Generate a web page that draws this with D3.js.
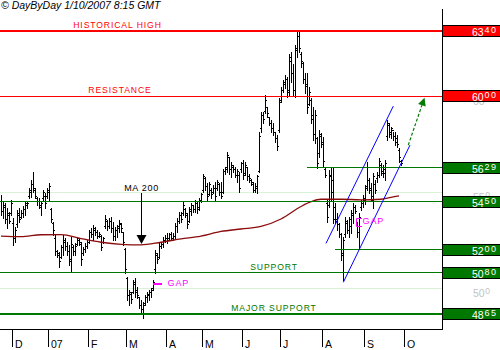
<!DOCTYPE html>
<html><head><meta charset="utf-8">
<script src="https://cdn.jsdelivr.net/npm/d3@7"></script>
<style>body{margin:0;background:#fff;}svg{display:block;}</style>
</head><body>
<svg id="c" width="500" height="350"></svg>
<script>
// ---- daily OHLC bars (index 0 = first bar of the window) ----
const highs = [
54.86,54.51,54.42,54.16,53.99,54.6,53.64,53.21,54.08,54.16,
54.08,54.3,54.51,54.51,55.2,55.64,56.04,55.2,54.77,54.68,
54.51,55.12,54.94,55.2,55.47,54.16,53.47,52.77,51.99,51.91,
52.25,52.77,52.6,52.43,52.25,52.69,52.25,52.34,52.69,52.6,
52.43,52.17,52.34,52.51,53.03,53.12,53.29,53.21,53.03,52.95,
52.77,52.69,53.82,53.56,53.64,53.73,53.47,53.21,53.29,53.56,
53.38,52.95,52.08,50.6,49.91,49.82,50.43,50.52,50.08,49.56,
49.39,49.3,49.65,49.82,49.91,50.0,50.43,51.99,51.82,52.34,
52.43,52.69,52.77,52.86,52.86,52.95,52.86,53.38,53.64,53.99,
53.99,54.51,54.16,53.9,54.25,54.42,54.34,54.6,54.51,54.68,
54.94,55.98,55.81,55.46,55.55,55.2,55.38,55.55,55.64,55.46,
55.55,56.24,56.33,57.11,56.85,56.59,56.42,56.33,56.24,56.07,
56.59,56.68,56.59,56.33,55.98,55.72,55.55,55.46,55.9,58.15,
59.2,59.2,60.06,59.46,58.94,58.76,58.59,58.15,57.98,59.89,
60.5,60.85,61.11,61.02,62.23,62.32,61.71,62.67,63.35,63.35,
62.32,61.8,61.2,61.19,60.5,59.9,59.46,59.29,57.9,58.25,
58.07,57.9,56.25,54.6,56.16,56.25,56.3,54.43,53.91,53.39,
52.86,52.69,53.73,53.56,53.73,54.08,54.43,54.34,53.47,53.91,
54.6,54.86,55.4,56.6,55.73,55.47,55.99,55.64,56.08,56.77,
56.51,56.42,56.68,58.77,58.6,58.42,58.16,58.16,57.99,57.29,
56.68];
const lows = [
53.82,53.64,53.38,53.12,53.38,53.82,52.25,52.43,53.21,53.47,
53.64,53.7,53.82,54.16,54.68,54.77,55.03,54.68,54.34,54.16,
53.82,54.6,54.16,54.68,54.6,53.47,52.8,51.73,51.65,51.12,
51.56,51.73,51.99,51.73,51.21,50.86,51.73,51.73,52.25,52.25,
51.21,51.73,51.91,52.08,52.34,52.69,52.51,52.77,52.6,52.69,
51.99,52.34,53.12,53.03,53.12,52.95,52.51,52.51,52.69,52.95,
52.95,52.25,50.8,49.39,49.13,49.22,49.74,49.56,49.48,48.95,
48.78,48.43,49.13,49.3,49.39,49.56,49.91,50.78,51.3,51.56,
52.08,52.17,52.43,52.34,52.51,52.51,52.51,52.6,52.95,53.38,
53.47,53.82,53.73,53.12,53.47,53.82,53.99,53.99,53.9,54.08,
54.51,55.03,55.12,54.6,54.86,54.68,54.94,54.6,55.12,54.86,
54.68,54.94,55.98,56.07,55.98,55.81,56.07,55.81,55.55,55.03,
56.07,55.72,55.9,55.64,55.55,55.38,55.03,55.03,54.94,56.07,
58.15,58.6,59.11,58.94,58.5,58.15,57.98,57.63,57.2,58.15,
59.72,60.24,60.41,59.98,60.06,60.76,60.06,59.98,62.06,62.3,
61.54,60.67,60.2,59.11,59.55,58.6,57.7,57.55,56.25,56.85,
57.38,56.34,55.82,53.47,54.25,54.6,53.38,53.38,53.04,52.69,
51.48,50.43,52.69,52.86,52.69,52.86,53.38,53.91,52.69,52.08,
54.08,54.25,54.4,55.12,54.95,54.6,54.17,54.95,55.56,55.82,
55.9,55.82,55.64,57.73,57.9,57.81,57.73,57.47,57.38,56.6,
56.42];
const opens = [
54.5,54.0,54.2,53.6,53.8,53.9,53.4,52.6,53.3,53.8,
53.7,53.9,54.1,54.3,54.8,55.0,55.4,55.1,54.7,54.5,
54.2,54.7,54.8,54.8,55.0,54.1,53.4,52.6,51.9,51.7,
51.6,52.1,52.4,52.2,51.9,51.4,52.1,51.9,52.3,52.5,
52.3,51.8,52.0,52.2,52.4,52.9,52.8,53.0,52.9,52.7,
52.7,52.4,53.2,53.5,53.2,53.5,53.1,52.7,53.0,53.1,
53.3,52.9,52.0,50.5,49.6,49.7,49.8,50.2,49.9,49.5,
49.1,48.9,49.2,49.5,49.6,49.8,50.0,51.0,51.7,51.6,
52.2,52.3,52.5,52.6,52.6,52.8,52.6,52.7,53.2,53.5,
53.8,53.9,54.1,53.8,53.5,54.0,54.3,54.1,54.4,54.2,
54.6,55.1,55.7,55.3,54.9,55.1,55.0,55.2,55.2,55.4,
55.0,55.0,56.1,56.3,56.8,56.2,56.3,56.2,55.9,55.9,
56.2,56.5,56.0,56.3,55.8,55.6,55.4,55.1,55.2,56.1,
58.3,59.0,59.2,59.4,58.9,58.6,58.3,58.1,57.8,58.2,
59.8,60.3,60.6,60.9,60.3,61.8,61.2,60.3,62.5,63.1,
62.2,61.7,60.9,60.6,59.6,59.8,59.0,58.0,57.8,57.0,
57.9,57.5,56.2,54.4,54.3,55.8,55.6,54.2,53.6,53.3,
52.8,51.8,52.8,53.4,53.0,53.2,53.8,54.2,53.4,52.9,
54.2,54.4,54.6,55.3,55.6,55.2,54.6,55.4,55.7,55.9,
56.4,56.1,56.0,57.9,58.5,58.1,58.2,57.9,57.8,57.2,
56.6];
const closes = [
54.0,54.3,53.6,53.9,53.5,54.4,52.6,53.0,53.9,53.6,
53.9,54.1,54.4,54.4,55.1,55.4,55.2,54.8,54.5,54.3,
54.4,55.0,54.4,55.1,55.3,53.6,53.0,51.9,51.8,51.4,
52.1,52.5,52.2,51.9,51.5,52.3,51.9,52.2,52.6,52.4,
51.5,52.0,52.2,52.4,52.9,52.8,53.1,52.9,52.7,52.8,
52.1,52.6,53.6,53.2,53.5,53.1,52.7,53.0,53.2,53.4,
53.1,52.4,51.0,49.6,49.8,49.4,50.3,49.8,49.6,49.1,
48.9,49.1,49.5,49.7,49.8,49.9,50.3,51.8,51.5,52.2,
52.3,52.5,52.6,52.5,52.8,52.6,52.7,53.2,53.5,53.8,
53.6,54.3,53.9,53.3,54.1,54.3,54.1,54.5,54.1,54.6,
54.9,55.8,55.3,54.8,55.4,54.9,55.2,54.8,55.5,55.0,
54.8,56.1,56.2,56.9,56.2,56.4,56.2,55.9,56.1,55.2,
56.5,55.9,56.4,55.8,55.7,55.5,55.1,55.3,55.8,57.9,
59.0,58.8,59.8,59.1,58.6,58.3,58.1,57.8,57.4,59.7,
60.3,60.7,60.9,60.2,62.0,61.2,60.3,62.4,63.1,62.5,
61.8,60.9,60.5,59.4,60.2,58.8,58.0,59.0,56.5,58.0,
57.6,56.6,55.9,53.7,55.9,55.0,53.6,53.5,53.3,52.8,
51.7,52.5,53.5,53.0,53.6,53.9,54.2,54.0,52.9,53.7,
54.5,54.7,55.2,56.3,55.1,54.8,55.8,55.1,55.9,56.6,
56.0,56.2,56.5,58.6,58.0,58.3,57.9,57.6,57.5,56.8,
56.5];

// ---- 200-day moving average (bar index, value) ----
const maIdx  = [0,10,20,30,40,50,60,70,80,90,100,110,120,130,140,150,155,160,170,180,190,195,199];
const maVals = [52.72,52.69,52.79,52.80,52.59,52.40,52.29,52.26,52.40,52.57,52.72,52.96,53.09,53.22,53.61,54.26,54.51,54.64,54.64,54.61,54.64,54.74,54.81];

// ---- x axis months (bar index where month begins) ----
const monthLabels = ["D","07","F","M","A","M","J","J","A","S","O"];
const monthStarts = [5.5,23.5,43.5,62.5,82.5,100.5,120.5,139.5,160.5,181.5,201.5];

// ---- horizontal levels ----
const levelValues = [63.40,60.00,56.29,54.50,52.00,50.80,48.65];
const levelInts   = ["63","60","56","54","52","50","48"];
const levelFracs  = ["40","00","29","50","00","80","65"];
const levelKinds  = ["r","r","g","g","g","g","g"];
const levelFrom   = [null,null,153,null,167,null,null];
const levelNames  = ["HISTORICAL HIGH","RESISTANCE","","","","SUPPORT","MAJOR SUPPORT"];
const levelThick  = [2,1,1,1,1,1,2];

// ---- faint default grid ----
const gridValues = [60,55,50];
const gridInts = ["60","55","50"];

// ---- trend channel & projection (bar index, value) ----
const channelUpper = [[162.5,52.34],[196.15,59.49]];
const channelLower = [[171.15,50.31],[204.5,57.46]];
const projection   = [[203.65,57.46],[211.75,59.93]];
const gap1 = {from:76, to:80.5, value:50.2};
const gap2 = {from:177.75, to:180.5, top:53.66, bottom:53.24};
const maArrowIdx = 70;

const RED = "#ff0000", GREEN = "#007800", BLUE = "#0000ff", MAG = "#ff00ff", MA = "#8a0c0c";
const FONT = "'Liberation Sans', Arial, sans-serif";

const svg = d3.select("#c").attr("font-family", FONT);
const x = d3.scaleLinear().domain([0,200]).range([1,401]);
const y = d3.scaleLinear().domain([47.88,64.55]).range([329,9]);
const AX = 442, AY = 329;
const crisp = v => Math.floor(v) + 0.5;

// title
svg.append("text").attr("x",1).attr("y",9).attr("font-size","10.5px").attr("font-style","italic")
  .attr("fill","#000").text("© DayByDay 1/10/2007 8:15 GMT");

// faint grid
svg.selectAll(".grid").data(gridValues).enter().append("line")
  .attr("x1",0).attr("x2",AX).attr("y1",d=>crisp(y(d))).attr("y2",d=>crisp(y(d)))
  .attr("stroke","#dcf2d8").attr("stroke-width",1);
// faint default price labels, mostly hidden behind the level boxes (clipped to the free area)
svg.append("clipPath").attr("id","gclip").append("rect").attr("x",AX+1).attr("y",0).attr("width",60).attr("height",350);
const gl = svg.selectAll(".gl").data(gridValues).enter().append("text").attr("clip-path","url(#gclip)")
  .attr("x",473).attr("y",d=>Math.round(y(d))+9).attr("fill","#c4c4c4").attr("font-size","10.5px");
gl.append("tspan").text((d,i)=>gridInts[i]);
gl.append("tspan").attr("dy",-3.5).attr("dx",0.5).attr("font-size","8.5px").text("0");

// OHLC bars
const bars = svg.append("g").attr("stroke","#000").attr("stroke-width",1).attr("shape-rendering","crispEdges");
highs.forEach((h,i)=>{
  const cx = Math.round(x(i)) + 0.5;
  bars.append("line").attr("x1",cx).attr("x2",cx).attr("y1",Math.round(y(h))).attr("y2",Math.round(y(lows[i]))+1);
  const oy = crisp(y(opens[i])), cy = crisp(y(closes[i]));
  bars.append("line").attr("x1",cx-1.5).attr("x2",cx).attr("y1",oy).attr("y2",oy);
  bars.append("line").attr("x1",cx).attr("x2",cx+1.5).attr("y1",cy).attr("y2",cy);
});

// moving average
const maPts = maIdx.map((d,i)=>[x(d), y(maVals[i])]);
svg.append("path").attr("d", d3.line().curve(d3.curveMonotoneX)(maPts))
  .attr("fill","none").attr("stroke",MA).attr("stroke-width",1.3);

// level lines
levelValues.forEach((v,i)=>{
  const yy = levelThick[i]===2 ? Math.round(y(v)) : crisp(y(v));
  svg.append("line").attr("x1", levelFrom[i]===null ? 0 : x(levelFrom[i])).attr("x2",AX)
    .attr("y1",yy).attr("y2",yy).attr("stroke", levelKinds[i]==="r"?RED:GREEN)
    .attr("stroke-width",levelThick[i]);
});

// level names
const nameX = [117.5,120,0,0,0,274,274];
levelValues.forEach((v,i)=>{
  if(!levelNames[i]) return;
  svg.append("text").attr("x",nameX[i]).attr("y",Math.round(y(v))-3.5)
    .attr("text-anchor","middle").attr("font-size","8.6px").attr("letter-spacing","0.9px")
    .attr("fill", levelKinds[i]==="r"?RED:GREEN).text(levelNames[i]);
});

// trend channel
[channelUpper, channelLower].forEach(c=>{
  svg.append("line").attr("x1",x(c[0][0])).attr("y1",y(c[0][1])).attr("x2",x(c[1][0])).attr("y2",y(c[1][1]))
    .attr("stroke",BLUE).attr("stroke-width",1);
});

// projection arrow
{
  const p0=[x(projection[0][0]),y(projection[0][1])], p1=[x(projection[1][0]),y(projection[1][1])];
  const dx=p1[0]-p0[0], dy=p1[1]-p0[1], L=Math.hypot(dx,dy), ux=dx/L, uy=dy/L, nx=-uy, ny=ux;
  const bx=p1[0]-8*ux, by=p1[1]-8*uy;
  svg.append("line").attr("x1",p0[0]).attr("y1",p0[1]).attr("x2",bx).attr("y2",by)
    .attr("stroke","#007a00").attr("stroke-width",1.2).attr("stroke-dasharray","3,2");
  svg.append("path").attr("d",`M${p1[0]},${p1[1]}L${bx+4*nx},${by+4*ny}L${bx-4*nx},${by-4*ny}Z`).attr("fill","#007a00");
}

// MA 200 annotation
{
  const ax = Math.round(x(maArrowIdx)) + 0.5;
  const tip = y(maVals[maIdx.indexOf(maArrowIdx)]) - 1;
  svg.append("text").attr("x",ax).attr("y",190.5).attr("text-anchor","middle")
    .attr("font-size","9px").attr("letter-spacing","0.7px").attr("fill","#000").text("MA 200");
  svg.append("line").attr("x1",ax).attr("x2",ax).attr("y1",193).attr("y2",tip-8).attr("stroke","#000").attr("stroke-width",1);
  svg.append("path").attr("d",`M${ax-5},${tip-9}L${ax+5},${tip-9}L${ax},${tip}Z`).attr("fill","#000");
}

// gaps
{
  const gy = Math.round(y(gap1.value));
  svg.append("line").attr("x1",x(gap1.from)).attr("x2",x(gap1.to)).attr("y1",gy).attr("y2",gy)
    .attr("stroke",MAG).attr("stroke-width",2);
  svg.append("text").attr("x",x(gap1.to)+5.5).attr("y",gy+2).attr("font-size","9px").attr("letter-spacing","0.9px")
    .attr("fill",MAG).text("GAP");
  const t = crisp(y(gap2.top)), b = crisp(y(gap2.bottom)), l = crisp(x(gap2.from)), r = x(gap2.to);
  svg.append("path").attr("d",`M${r},${t}H${l}V${b}H${r}`).attr("fill","none").attr("stroke",MAG).attr("stroke-width",1);
  svg.append("text").attr("x",r+0.5).attr("y",b-2.5).attr("font-size","9px").attr("letter-spacing","0.9px")
    .attr("fill",MAG).text("GAP");
}

// axes
svg.append("line").attr("x1",0).attr("x2",AX+1).attr("y1",AY+0.5).attr("y2",AY+0.5).attr("stroke","#000");
svg.append("line").attr("x1",AX+0.5).attr("x2",AX+0.5).attr("y1",9).attr("y2",AY+1).attr("stroke","#000");
monthStarts.forEach((m,i)=>{
  const tx = Math.round(x(m)) + 0.5;
  svg.append("line").attr("x1",tx).attr("x2",tx).attr("y1",AY).attr("y2",347).attr("stroke","#000");
  svg.append("text").attr("x",tx+2.5).attr("y",347.5).attr("font-size","10.5px").attr("fill","#000").text(monthLabels[i]);
});

// level value boxes
levelValues.forEach((v,i)=>{
  const yy = Math.round(y(v));
  svg.append("rect").attr("x",AX+0.5).attr("y",yy-5.5).attr("width",60).attr("height",11)
    .attr("fill", levelKinds[i]==="r"?RED:GREEN).attr("stroke","#000").attr("stroke-width",1);
  const t = svg.append("text").attr("x",472).attr("y",yy+5).attr("fill","#fff").attr("font-size","10.5px");
  t.append("tspan").text(levelInts[i]);
  t.append("tspan").attr("dy",-3.5).attr("dx",0.8).attr("font-size","9px").attr("letter-spacing","1.4px").text(levelFracs[i]);
});
</script>
</body></html>
